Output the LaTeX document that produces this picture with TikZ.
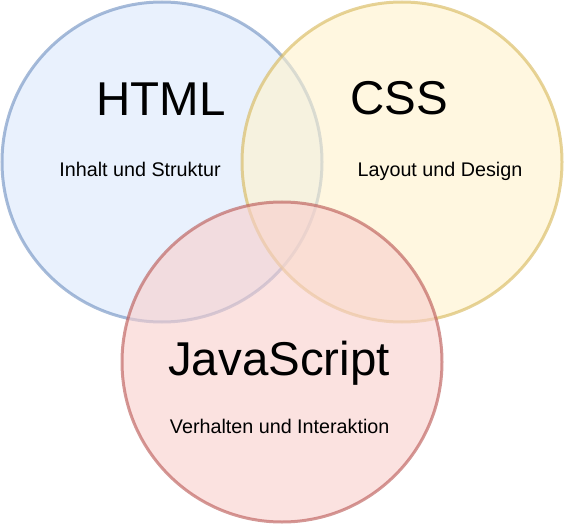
\documentclass[tikz,border=0pt]{standalone}
\usepackage{fontspec}
\setmainfont{Liberation Sans}
\definecolor{htmlfill}{RGB}{218,232,252}
\definecolor{htmldraw}{RGB}{108,142,191}
\definecolor{cssfill}{RGB}{255,242,204}
\definecolor{cssdraw}{RGB}{214,182,86}
\definecolor{jsfill}{RGB}{248,206,204}
\definecolor{jsdraw}{RGB}{184,84,80}
\tikzset{every picture/.style={line width=0.75pt},
  venn/.style={line width=2.25pt, opacity=0.6},
  titletext/.style={anchor=base, inner sep=0.75pt, font=\fontsize{35.6}{40}\selectfont},
  subtext/.style={anchor=base, inner sep=0.75pt, font=\fontsize{14.8}{17}\selectfont}}
\begin{document}
\begin{tikzpicture}[x=0.75pt,y=0.75pt,yscale=-1,xscale=1]
%set diagram left start at 0, and has height of 524
\useasboundingbox (0,0) rectangle (564,524);

%Shape: Circle [id:html]
\draw [venn, draw=htmldraw, fill=htmlfill] (162,162) circle (160);
%Shape: Circle [id:css]
\draw [venn, draw=cssdraw, fill=cssfill] (402,162) circle (160);
%Shape: Circle [id:js]
\draw [venn, draw=jsdraw, fill=jsfill] (282,362) circle (160);

% Text Node
\node [titletext] (htmltitle) at (161,116) {HTML};
% Text Node
\node [subtext] (htmlsub) at (140,176) {Inhalt und Struktur};
% Text Node
\node [titletext] (csstitle) at (399.5,115) {CSS};
% Text Node
\node [subtext] (csssub) at (440,176) {Layout und Design};
% Text Node
\node [titletext] (jstitle) at (279,375) {JavaScript};
% Text Node
\node [subtext] (jssub) at (279.7,433) {Verhalten und Interaktion};

\end{tikzpicture}
\end{document}
